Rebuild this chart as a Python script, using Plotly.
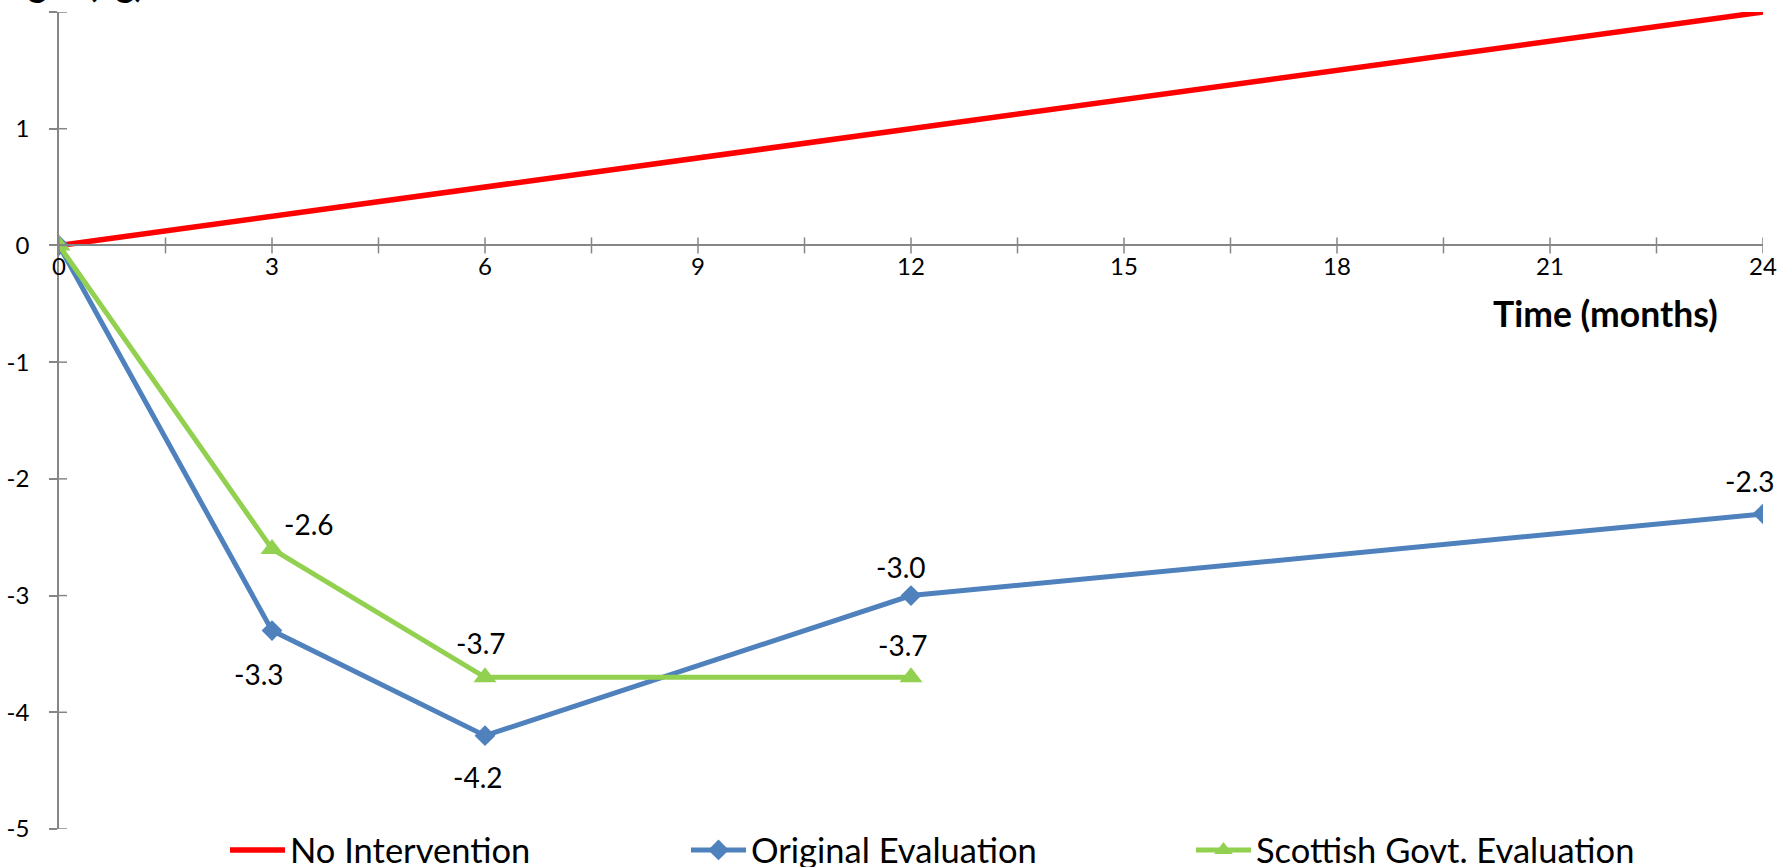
import plotly.graph_objects as go

# ---- data -------------------------------------------------------------
months_no_intervention = [0, 24]
weight_no_intervention = [0, 2]

months_original = [0, 3, 6, 12, 24]
weight_original = [0, -3.3, -4.2, -3.0, -2.3]

months_scottish = [0, 3, 6, 12]
weight_scottish = [0, -2.6, -3.7, -3.7]

x_tick_values = [0, 1.5, 3, 4.5, 6, 7.5, 9, 10.5, 12, 13.5, 15, 16.5, 18, 19.5, 21, 22.5, 24]
x_tick_labels = ["0", "", "3", "", "6", "", "9", "", "12", "", "15", "", "18", "", "21", "", "24"]
y_tick_values = [-5, -4, -3, -2, -1, 0, 1, 2]
y_tick_labels = ["-5", "-4", "-3", "-2", "-1", "0", "1", "2"]

# ---- styling ----------------------------------------------------------
FONT = "Lato"
AXIS_GREY = "#868686"
RED = "#FF0000"
BLUE = "#4F81BD"
GREEN = "#92D050"

# pixel offsets for the value labels (dx, dy), one per labelled point
orig_label_offsets = [None, (-13, -43), (-7, -41), (-10, 29), (-13, 33)]
scot_label_offsets = [None, (37, 25), (-4, 34), (-8, 32)]

fig = go.Figure()

fig.add_trace(go.Scatter(
    x=months_no_intervention, y=weight_no_intervention, mode="lines",
    name="No Intervention", line=dict(color=RED, width=5.5), legend="legend",
))
fig.add_trace(go.Scatter(
    x=months_original, y=weight_original, mode="lines+markers",
    name="Original Evaluation", line=dict(color=BLUE, width=5),
    marker=dict(symbol="diamond", size=16, color=BLUE), legend="legend2",
))
fig.add_trace(go.Scatter(
    x=months_scottish, y=weight_scottish, mode="lines+markers",
    name="Scottish Govt. Evaluation", line=dict(color=GREEN, width=5),
    marker=dict(symbol="triangle-up", size=20, color=GREEN), legend="legend3",
))

annotations = []
for xs, ys, offsets in ((months_original, weight_original, orig_label_offsets),
                        (months_scottish, weight_scottish, scot_label_offsets)):
    for xv, yv, off in zip(xs, ys, offsets):
        if off is None:
            continue
        annotations.append(dict(
            x=xv, y=yv, xref="x", yref="y", text=f"{yv:.1f}", showarrow=False,
            xshift=off[0], yshift=off[1], font=dict(family=FONT, size=28, color="black"),
        ))

PLOT_L, PLOT_R, PLOT_T, PLOT_B = 59, 1763, 12, 829
PW, PH = PLOT_R - PLOT_L, PLOT_B - PLOT_T

def px_x(p):
    return (p - PLOT_L) / PW

def px_y(p):
    return (PLOT_B - p) / PH

annotations.append(dict(
    x=px_x(1720), y=px_y(313), xref="paper", yref="paper", xanchor="right", yanchor="middle",
    text="<b>Time (months)</b>", showarrow=False, font=dict(family=FONT, size=35.5, color="black"),
))
annotations.append(dict(
    x=px_x(146), y=px_y(6), xref="paper", yref="paper", xanchor="right", yanchor="bottom",
    text="<b>Weight (kg)</b>", showarrow=False, font=dict(family=FONT, size=35, color="black"),
))

# tick marks that cross the axis lines
shapes = []
for t in x_tick_values:
    shapes.append(dict(type="line", xref="x", yref="y", ysizemode="pixel", yanchor=0,
                       x0=t, x1=t, y0=-8, y1=8, line=dict(color=AXIS_GREY, width=1.5)))
for t in y_tick_values:
    shapes.append(dict(type="line", xref="x", yref="y", xsizemode="pixel", xanchor=0,
                       x0=-8, x1=8, y0=t, y1=t, line=dict(color=AXIS_GREY, width=1.5)))

legend_common = dict(orientation="h", yanchor="middle", y=px_y(850), xanchor="left",
                     font=dict(family=FONT, size=34.5, color="black"), itemwidth=55,
                     bgcolor="rgba(0,0,0,0)")

fig.update_layout(
    width=1791, height=867,
    margin=dict(l=PLOT_L, r=1791 - PLOT_R, t=PLOT_T, b=867 - PLOT_B, pad=0, autoexpand=False),
    paper_bgcolor="white", plot_bgcolor="white",
    font=dict(family=FONT, color="black"),
    showlegend=True,
    xaxis=dict(
        range=[0, 24], tickmode="array", tickvals=x_tick_values, ticktext=x_tick_labels,
        showgrid=False, zeroline=False, showline=True, linecolor=AXIS_GREY, linewidth=1.5,
        ticks="outside", ticklen=0, tickcolor=AXIS_GREY, tickwidth=1.5,
        anchor="free", position=5 / 7, tickfont=dict(family=FONT, size=24, color="black"),
        ticklabelstandoff=0,
    ),
    yaxis=dict(
        range=[-5, 2], tickmode="array", tickvals=y_tick_values, ticktext=y_tick_labels,
        showgrid=False, zeroline=False, showline=True, linecolor=AXIS_GREY, linewidth=1.5,
        ticks="outside", ticklen=8, tickcolor=AXIS_GREY, tickwidth=1.5,
        tickfont=dict(family=FONT, size=24, color="black"), ticklabelstandoff=15,
    ),
    legend=dict(x=px_x(225), **legend_common),
    legend2=dict(x=px_x(686), **legend_common),
    legend3=dict(x=px_x(1191), **legend_common),
    annotations=annotations,
    shapes=shapes,
)

fig.write_html("out.html")
